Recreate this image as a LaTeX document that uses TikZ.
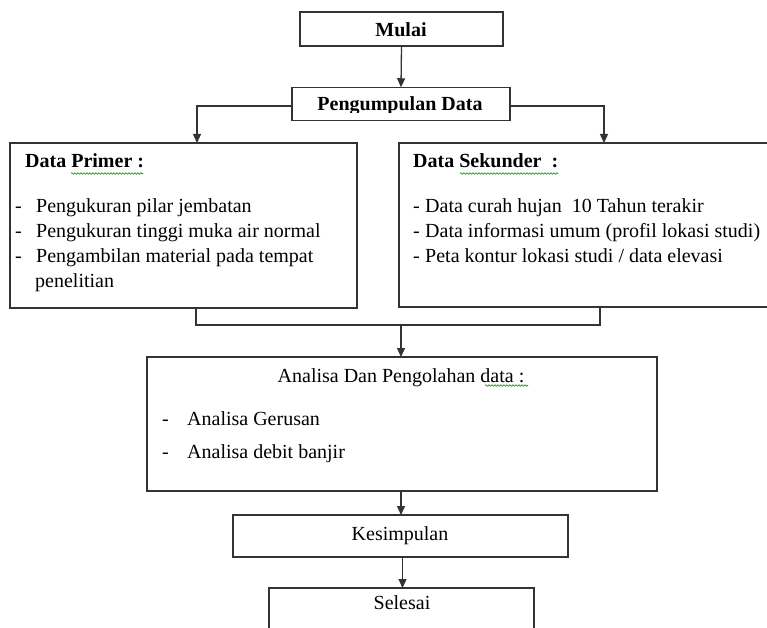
\documentclass[tikz,border=0pt]{standalone}
\usepackage{fontspec}
\setmainfont{Liberation Serif}
\usetikzlibrary{arrows.meta,decorations.pathmorphing}
\begin{document}
\begin{tikzpicture}[x=1pt,y=-1pt,
  box/.style={draw=black!80, line width=1.3pt, inner sep=0pt, outer sep=0pt},
  conn/.style={draw=black!80, line width=1.3pt},
  arr/.style={conn, -{Triangle[length=9pt,width=8pt]}},
  txt/.style={inner sep=0pt, anchor=base west, font=\fontsize{20}{25}\selectfont},
  ctxt/.style={inner sep=0pt, anchor=base, font=\fontsize{20}{25}\selectfont},
  btxt/.style={inner sep=0pt, anchor=base west, font=\fontsize{20}{25}\selectfont\bfseries},
  cbtxt/.style={inner sep=0pt, anchor=base, font=\fontsize{20}{25}\selectfont\bfseries},
  squig/.style={draw=green!55!black, line width=0.6pt, decorate,
    decoration={snake, amplitude=0.8pt, segment length=3pt}}
]
\useasboundingbox (0,0) rectangle (767,628);
\fill[white] (0,0) rectangle (767,628);

% boxes
\node[box, minimum width=203pt, minimum height=34pt] (mulai) at (401.5,29) {};
\node[box, minimum width=218pt, minimum height=33.5pt] (peng) at (401,104) {};
\node[box, minimum width=347pt, minimum height=165pt] (primer) at (183.5,225.5) {};
\node[box, minimum width=380pt, minimum height=164pt] (sekunder) at (589,225) {};
\node[box, minimum width=510pt, minimum height=134pt] (analisa) at (402,424) {};
\node[box, minimum width=335pt, minimum height=42pt] (kesimpulan) at (400.5,536) {};
\node[box, minimum width=265pt, minimum height=80pt] (selesai) at (401.5,628) {};

% texts
\node[cbtxt] (tmulai) at (401,36.5) {Mulai};
\begin{scope}
  \clip (292,87) rectangle (510,112.5);
  \node[cbtxt] (tpeng) at (400,111) {Pengumpulan Data};
\end{scope}

\node[btxt] (tprimer) at (25,168) {Data Primer :};
\node[txt] (dp1) at (15,212) {-};
\node[txt] (p1) at (36,212) {Pengukuran pilar jembatan};
\node[txt] (dp2) at (15,237) {-};
\node[txt] (p2) at (36,237) {Pengukuran tinggi muka air normal};
\node[txt] (dp3) at (15,262) {-};
\node[txt] (p3) at (36,262) {Pengambilan material pada tempat};
\node[txt] (p4) at (35,287) {penelitian};

\node[btxt] (tsek) at (413,168) {Data Sekunder~ :};
\node[txt] (ds1) at (413,212) {-};
\node[txt] (s1) at (425,212) {Data curah hujan~ 10 Tahun terakir};
\node[txt] (ds2) at (413,237) {-};
\node[txt] (s2) at (425,237) {Data informasi umum (profil lokasi studi)};
\node[txt] (ds3) at (413,262) {-};
\node[txt] (s3) at (425,262) {Peta kontur lokasi studi / data elevasi};

\node[ctxt] (tana) at (401,382) {Analisa Dan Pengolahan data :};
\node[txt] (da1) at (162,425) {-};
\node[txt] (a1) at (187,425) {Analisa Gerusan};
\node[txt] (da2) at (162,458) {-};
\node[txt] (a2) at (187,458) {Analisa debit banjir};

\node[ctxt] (tkes) at (400,540) {Kesimpulan};
\node[ctxt] (tsel) at (402,609) {Selesai};

% spelling squiggles
\draw[squig] (71,173.5) -- (143,173.5);
\draw[squig] (460,173.5) -- (558,173.5);
\draw[squig] (485,385.5) -- (528,385.5);

% connectors
\draw[arr] (mulai.south) -- (peng.north);
\coordinate (pl) at (197,106);
\coordinate (pr) at (604,106);
\draw[arr] (peng.west |- pl) -| (primer.north -| pl);
\draw[arr] (peng.east |- pr) -| (sekunder.north -| pr);
\coordinate (ml) at (196,325);
\coordinate (mr) at (600,325);
\coordinate (mj) at (401,325);
\draw[conn] (primer.south -| ml) -- (ml) -- (mr) -- (sekunder.south -| mr);
\draw[arr] (mj) -- (analisa.north -| mj);
\coordinate (kj) at (401,491);
\draw[arr] (analisa.south -| kj) -- (kesimpulan.north -| kj);
\coordinate (sj) at (402.5,557);
\draw[arr] (kesimpulan.south -| sj) -- (selesai.north -| sj);
\end{tikzpicture}
\end{document}
